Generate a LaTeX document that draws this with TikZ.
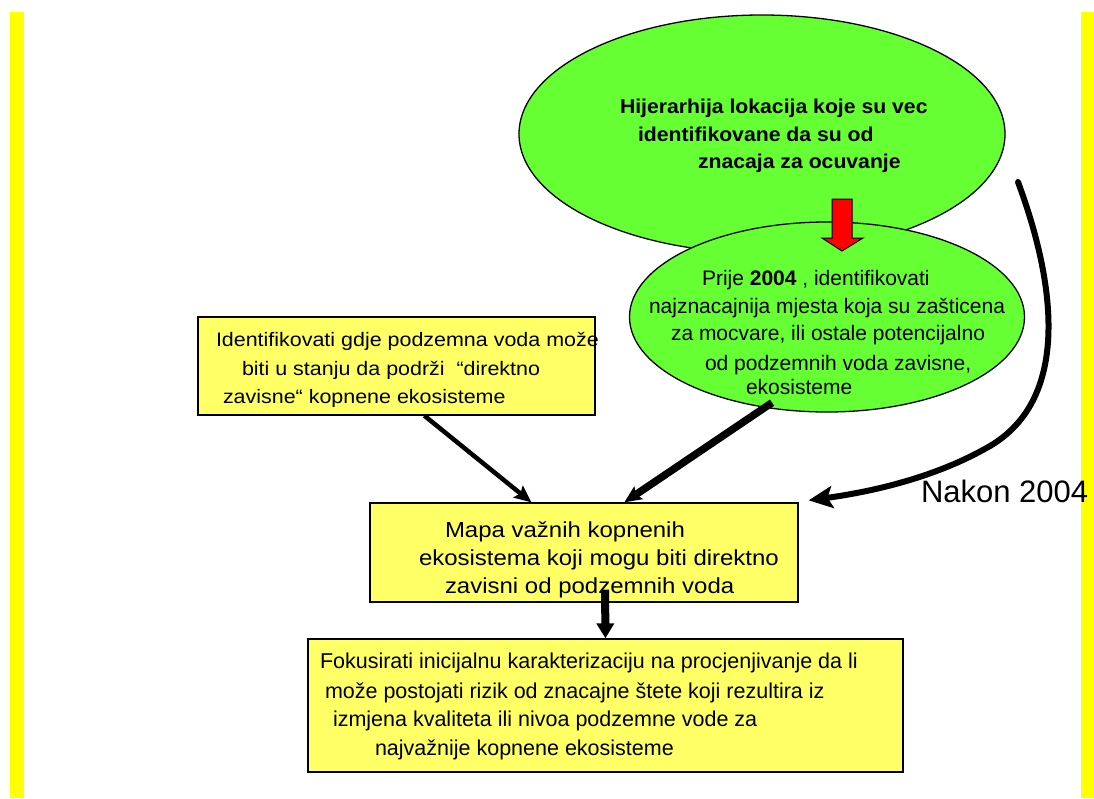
\documentclass[tikz,border=0pt]{standalone}
\usepackage{fontspec}
\setmainfont{Liberation Sans}
\newfontfamily\boxfont[FakeStretch=1.1]{Liberation Sans}
\newfontfamily\titlefont[FakeStretch=1.06]{Liberation Sans}
\usetikzlibrary{shapes.geometric,arrows.meta}
\definecolor{baryellow}{HTML}{FFFF00}
\definecolor{boxyellow}{HTML}{FFFF66}
\definecolor{bubblegreen}{HTML}{66FF33}
\definecolor{arrowred}{HTML}{FF0000}
\tikzset{
  box/.style={draw, line width=1.3pt, fill=boxyellow, rectangle, inner sep=0pt},
  bubble/.style={draw, line width=1.3pt, fill=bubblegreen, ellipse, inner sep=0pt},
  txt/.style={anchor=base west, inner sep=0pt, outer sep=0pt},
  fbox/.style={txt, font=\boxfont\fontsize{19.5pt}{23pt}\selectfont},
  fmap/.style={txt, font=\boxfont\fontsize{21.8pt}{26pt}\selectfont},
  fell/.style={txt, font=\fontsize{21pt}{25pt}\selectfont},
  ftitle/.style={txt, font=\titlefont\bfseries\fontsize{20pt}{24pt}\selectfont},
  flow/.style={line width=#1, -{Stealth[length=17pt,width=15pt,inset=3pt]}},
}
\begin{document}
\begin{tikzpicture}[x=1pt,y=-1pt]
\useasboundingbox (0,0) rectangle (1094,798);
\fill[white] (0,0) rectangle (1094,798);
% side bars
\fill[baryellow] (10,12) rectangle (24,798);
\fill[baryellow] (1081,12) rectangle (1094,798);

% top ellipse
\node[bubble, minimum width=486pt, minimum height=238pt] (e1) at (762,134) {};
\node[ftitle] (t1a) at (620,113) {Hijerarhija lokacija koje su vec};
\node[ftitle] (t1b) at (638,141) {identifikovane da su od};
\node[ftitle] (t1c) at (698,168) {znacaja za ocuvanje};

% second ellipse
\node[bubble, minimum width=395pt, minimum height=190pt] (e2) at (827,317) {};
\node[fell] (t2a) at (702,285) {Prije {\bfseries 2004} , identifikovati};
\node[fell] (t2b) at (649,313) {najznacajnija mjesta koja su zašticena};
\node[fell] (t2c) at (671,340) {za mocvare, ili ostale potencijalno};
\node[fell] (t2d) at (705,370) {od podzemnih voda zavisne,};
\node[fell] (t2e) at (746,394) {ekosisteme};

% red block arrow
\draw[line width=1pt, fill=arrowred] (832,199) -- (852,199) -- (852,238) -- (863,238)
  -- (842,251) -- (822,238) -- (832,238) -- cycle;

% left box
\node[box, minimum width=397pt, minimum height=98pt] (b1) at (396.5,366) {};
\node[fbox] (t3a) at (216,346) {Identifikovati gdje podzemna voda može};
\node[fbox] (t3b) at (242,375) {biti u stanju da podrži \ “direktno};
\node[fbox] (t3c) at (223,403) {zavisne“ kopnene ekosisteme};

% middle box
\node[box, minimum width=428pt, minimum height=99pt] (b2) at (584,552.5) {};
\node[fmap] (t4a) at (445,537) {Mapa važnih kopnenih};
\node[fmap] (t4b) at (419,565) {ekosistema koji mogu biti direktno};
\node[fmap] (t4c) at (445,593) {zavisni od podzemnih voda};

% bottom box
\node[box, minimum width=595pt, minimum height=133pt] (b3) at (605.5,705.5) {};
\node[fell, font=\fontsize{21.5pt}{25pt}\selectfont] (t5a) at (320,668) {Fokusirati inicijalnu karakterizaciju na procjenjivanje da li};
\node[fell, font=\fontsize{21.5pt}{25pt}\selectfont] (t5b) at (325,698) {može postojati rizik od znacajne štete koji rezultira iz};
\node[fell, font=\fontsize{21.5pt}{25pt}\selectfont] (t5c) at (333,726) {izmjena kvaliteta ili nivoa podzemne vode za};
\node[fell, font=\fontsize{21.5pt}{25pt}\selectfont] (t5d) at (375,755) {najvažnije kopnene ekosisteme};

% connectors
\draw[flow=4.5pt] ([xshift=227pt]b1.south west) -- ([xshift=162pt]b2.north west);
\draw[flow=7.5pt] ([xshift=-55pt,yshift=10pt]e2.south) -- ([xshift=255pt]b2.north west);
\draw[line width=8pt, -{Triangle[length=15pt,width=17pt]}] ([xshift=21pt,yshift=13pt]b2.south) -- (b3.north);

% curved arrow after 2004
\coordinate (cstart) at (1018,182);
\draw[line width=6pt, line cap=round, -{Stealth[length=24pt,width=22pt,inset=5pt]}]
  (cstart) .. controls (1058,290) and (1068,400) .. (990,446)
  .. controls (935,478) and (870,492) .. ([xshift=10pt,yshift=2pt]b2.north east);
\node[txt, font=\fontsize{31pt}{35pt}\selectfont] (nakon) at (921,502) {Nakon 2004};
\end{tikzpicture}
\end{document}
